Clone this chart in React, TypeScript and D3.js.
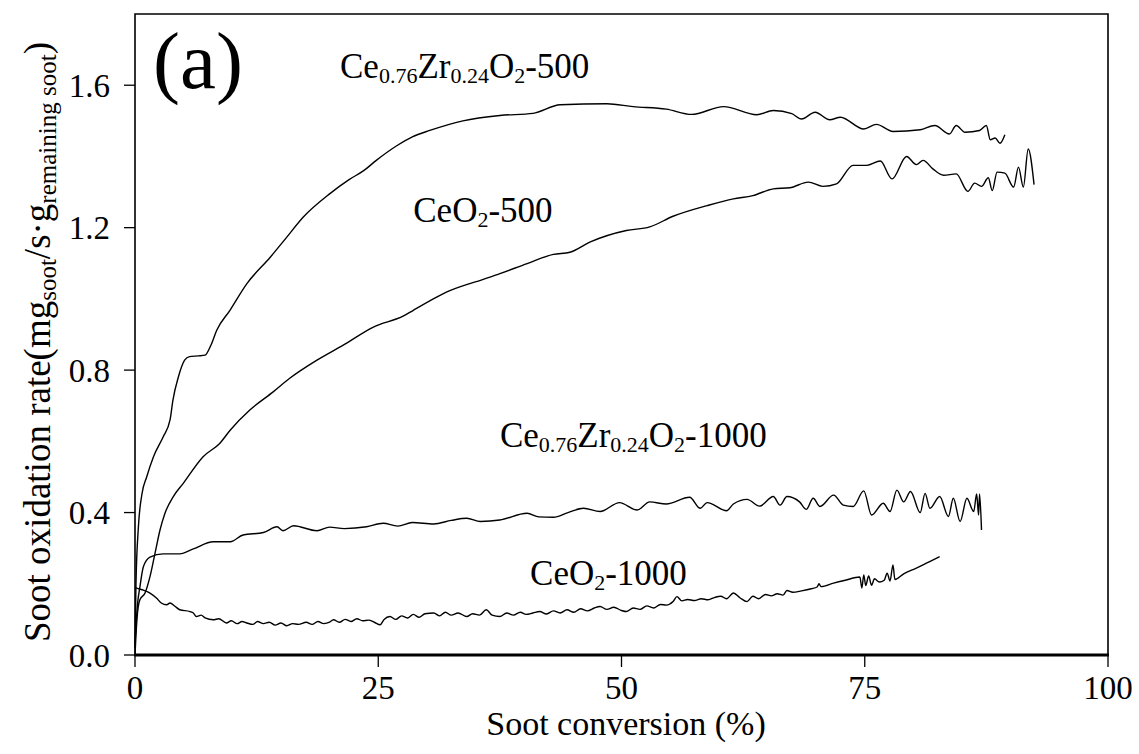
import React from "react";
import * as d3 from "d3";

type Pt = [number, number];

// Ce0.76Zr0.24O2-500
const ceZr500: Pt[] = [
  [0, 0.02], [0.1, 0.2], [0.35, 0.36], [0.7, 0.45], [1.2, 0.5], [1.9, 0.557], [2.9, 0.613],
  [3.6, 0.66], [3.9, 0.716], [4.45, 0.78], [5.1, 0.828], [5.6, 0.838], [6.5, 0.84], [7.2, 0.842],
  [7.8, 0.87], [8.4, 0.912], [9.76, 0.968], [11.5, 1.043], [13.9, 1.117], [15.5, 1.17], [17.3, 1.23],
  [20.0, 1.295], [22, 1.335], [23.5, 1.36], [24.8, 1.389], [26.9, 1.43], [28.5, 1.455], [30.3, 1.473],
  [33.7, 1.5], [37.5, 1.515], [40.9, 1.521], [43.7, 1.545], [48.5, 1.548], [51.2, 1.54], [54.6, 1.533],
  [57.2, 1.518], [60.5, 1.54], [63.9, 1.517], [65.6, 1.529], [67.5, 1.52], [68.5, 1.505], [69.9, 1.524],
  [71.4, 1.503], [72.5, 1.51], [74.9, 1.477], [76.2, 1.49], [77.9, 1.47], [80.7, 1.475], [82.2, 1.487],
  [83.7, 1.463], [84.4, 1.487], [85.3, 1.468], [86.8, 1.473], [87.5, 1.487], [87.9, 1.447], [88.4, 1.452],
  [88.9, 1.437], [89.4, 1.461],
];

// CeO2-500
const ceO500: Pt[] = [
  [0, 0.0], [0.2, 0.1], [0.5, 0.155], [1.03, 0.174], [1.54, 0.22], [2.06, 0.286], [2.57, 0.351],
  [3.08, 0.398], [3.94, 0.445], [4.96, 0.482], [7.0, 0.557], [8.7, 0.594], [9.8, 0.632], [11.8, 0.688],
  [14.2, 0.739], [15.9, 0.777], [18.7, 0.828], [21.4, 0.87], [24.5, 0.921], [27.6, 0.952], [28.6, 0.968],
  [31.0, 1.005], [32.0, 1.019], [34.4, 1.043], [35.5, 1.052], [37.5, 1.071], [40.3, 1.099], [43.0, 1.125],
  [44.7, 1.131], [46.8, 1.16], [50.5, 1.192], [52.9, 1.202], [55.3, 1.232], [58.8, 1.262], [61.5, 1.281],
  [63.5, 1.29], [65.6, 1.309], [67.3, 1.312], [69.2, 1.328], [70.7, 1.316], [72.1, 1.323], [73.8, 1.375],
  [75.2, 1.375], [76.6, 1.387], [77.8, 1.337], [79.3, 1.4], [80.3, 1.377], [81.0, 1.389], [82.0, 1.365],
  [83.1, 1.347], [84.4, 1.351], [85.6, 1.302], [86.3, 1.325], [87.0, 1.316], [87.7, 1.34], [88.1, 1.304],
  [88.6, 1.356], [89.4, 1.353], [90.3, 1.314], [90.8, 1.37], [91.3, 1.314], [91.8, 1.421], [92.4, 1.321],
];

// Ce0.76Zr0.24O2-1000
const ceZr1000: Pt[] = [
  [0, 0.03], [0.25, 0.14], [0.51, 0.192], [0.86, 0.248], [1.54, 0.275], [2.9, 0.284], [4.6, 0.284],
  [6.0, 0.298], [8.05, 0.318], [9.8, 0.318], [11.1, 0.337], [13.2, 0.344], [14.6, 0.36], [15.2, 0.349],
  [16.3, 0.363], [18.7, 0.349], [20.0, 0.359], [21.5, 0.355], [23.8, 0.36], [25.5, 0.37], [27, 0.362],
  [28.5, 0.372], [30.7, 0.368], [32.5, 0.378], [34.1, 0.384], [35.5, 0.375], [37.5, 0.379], [40.3, 0.398],
  [41.5, 0.388], [43.0, 0.387], [44.5, 0.4], [46.1, 0.412], [47.8, 0.403], [49.8, 0.428], [51.6, 0.407],
  [52.9, 0.43], [54.6, 0.424], [57.0, 0.443], [58.1, 0.412], [58.8, 0.428], [60.8, 0.405], [61.5, 0.424],
  [62.9, 0.437], [64.2, 0.418], [65.6, 0.445], [66.3, 0.421], [67.0, 0.445], [68.3, 0.43], [69.0, 0.409],
  [69.7, 0.44], [70.4, 0.417], [71.8, 0.449], [72.8, 0.421], [73.8, 0.417], [74.9, 0.461], [75.7, 0.393],
  [76.9, 0.426], [77.6, 0.403], [78.3, 0.463], [79.0, 0.43], [79.7, 0.459], [80.7, 0.4], [81.2, 0.454],
  [81.7, 0.412], [82.7, 0.445], [83.6, 0.389], [84.1, 0.44], [84.8, 0.375], [85.5, 0.44], [86.2, 0.403],
  [86.5, 0.452], [86.7, 0.393], [86.8, 0.452], [87.0, 0.351],
];

// CeO2-1000
const ceO1000: Pt[] = [
  [0, 0.19], [0.17, 0.188], [0.86, 0.182], [1.54, 0.174], [2.2, 0.16], [2.7, 0.146], [3.26, 0.141],
  [3.6, 0.146], [4.1, 0.137], [4.6, 0.127], [5.65, 0.122], [6.0, 0.118], [6.3, 0.108], [6.8, 0.112],
  [7.2, 0.104], [8.05, 0.099], [8.6, 0.102], [9.4, 0.09], [9.9, 0.096], [10.5, 0.088], [11.0, 0.094],
  [11.5, 0.09], [12.1, 0.086], [12.6, 0.094], [13.2, 0.088], [13.8, 0.092], [14.4, 0.084], [15.0, 0.09],
  [15.6, 0.082], [16.2, 0.088], [16.8, 0.086], [17.6, 0.092], [18.2, 0.086], [18.8, 0.094], [19.4, 0.088],
  [20.0, 0.092], [20.4, 0.099], [21.0, 0.092], [21.6, 0.1], [22.2, 0.094], [22.8, 0.102], [23.4, 0.096],
  [24.0, 0.098], [24.6, 0.092], [25.2, 0.085], [25.6, 0.1], [26.2, 0.108], [26.8, 0.1], [27.4, 0.11],
  [28.0, 0.104], [28.6, 0.114], [29.2, 0.106], [29.8, 0.116], [30.7, 0.118], [31.3, 0.11], [31.9, 0.12],
  [32.5, 0.112], [33.2, 0.118], [34.1, 0.108], [34.7, 0.116], [35.4, 0.112], [36.1, 0.127], [36.7, 0.112],
  [37.5, 0.108], [38.2, 0.118], [38.9, 0.112], [39.6, 0.12], [40.2, 0.114], [40.9, 0.118], [41.6, 0.122],
  [42.3, 0.115], [43.0, 0.124], [43.7, 0.118], [44.4, 0.127], [45.1, 0.12], [45.8, 0.13], [46.5, 0.124],
  [47.2, 0.132], [47.8, 0.136], [48.5, 0.128], [49.2, 0.134], [50.0, 0.125], [50.5, 0.122], [51.2, 0.132],
  [51.9, 0.128], [52.6, 0.138], [53.3, 0.132], [54.0, 0.142], [54.6, 0.14], [55.3, 0.15], [55.7, 0.164],
  [56.2, 0.152], [56.8, 0.156], [57.5, 0.153], [58.2, 0.158], [58.9, 0.155], [59.6, 0.162], [60.2, 0.165],
  [60.8, 0.158], [61.5, 0.174], [62.2, 0.16], [62.9, 0.15], [63.5, 0.165], [64.1, 0.158], [64.8, 0.17],
  [65.4, 0.166], [66.0, 0.172], [66.6, 0.168], [67.0, 0.181], [67.6, 0.176], [68.5, 0.18], [69.5, 0.186],
  [70.1, 0.191], [70.3, 0.2], [70.5, 0.192], [71.8, 0.202], [73.0, 0.21], [74.5, 0.219], [74.7, 0.188],
  [74.9, 0.225], [75.1, 0.195], [75.4, 0.222], [75.7, 0.196], [76.0, 0.214], [76.5, 0.205], [77.0, 0.21],
  [77.3, 0.23], [77.6, 0.208], [77.9, 0.253], [78.1, 0.212], [79.0, 0.228], [80.3, 0.244], [81.5, 0.26],
  [82.7, 0.276],
];

const xTicks = [0, 25, 50, 75, 100];
const yTicks = [0, 0.4, 0.8, 1.2, 1.6];
const xDomain: [number, number] = [0, 100];
const yDomain: [number, number] = [0, 1.8];

const FONT = "Liberation Serif, Times New Roman, Times, DejaVu Serif, serif";

export default function App() {
  const W = 1139, H = 754;
  const left = 135, right = 1108, top = 14, bottom = 655;
  const x = d3.scaleLinear().domain(xDomain).range([left, right]);
  const y = d3.scaleLinear().domain(yDomain).range([bottom, top]);
  const line = d3.line<Pt>().x(d => x(d[0])).y(d => y(d[1])).curve(d3.curveMonotoneX);

  const series = [ceZr500, ceO500, ceZr1000, ceO1000];
  const sub = 5;
  const lblSize = 35, subSize = 22;

  return (
    <svg width={W} height={H} style={{ position: "absolute", left: 0, top: 0, background: "#fff", fontFamily: FONT }}>
      <rect x={0} y={0} width={W} height={H} fill="#fff" />
      {series.map((s, i) => (
        <path key={i} d={line(s) || ""} fill="none" stroke="#000" strokeWidth={1.4} strokeLinejoin="round" />
      ))}
      {/* frame */}
      <path d={`M${left},${bottom}V${top}H${right}V${bottom}`} fill="none" stroke="#000" strokeWidth={1.6} />
      <line x1={left - 1} x2={right + 1} y1={bottom} y2={bottom} stroke="#000" strokeWidth={3} />
      {/* y ticks */}
      {yTicks.map(t => (
        <g key={t}>
          <line x1={left - 11} x2={left} y1={y(t)} y2={y(t)} stroke="#000" strokeWidth={1.3} />
          <text x={left - 25} y={y(t)} dy="0.35em" textAnchor="end" fontSize={33}>{t.toFixed(1)}</text>
        </g>
      ))}
      {/* x ticks */}
      {xTicks.map(t => (
        <g key={t}>
          <line x1={x(t)} x2={x(t)} y1={bottom} y2={bottom + 12} stroke="#000" strokeWidth={1.3} />
          <text x={x(t)} y={699} textAnchor="middle" fontSize={33}>{t}</text>
        </g>
      ))}
      <text x={626} y={735} textAnchor="middle" fontSize={34}>Soot conversion (%)</text>
      {/* y title */}
      <text transform={`translate(50,${342}) rotate(-90)`} textAnchor="middle" fontSize={37}>
        <tspan>Soot oxidation rate(mg</tspan>
        <tspan fontSize={25} dy={6}>soot</tspan>
        <tspan dy={-6}>/s·g</tspan>
        <tspan fontSize={25} dy={6}>remaining soot</tspan>
        <tspan dy={-6}>)</tspan>
      </text>
      {/* panel label */}
      <text x={153} y={88} fontSize={81}>(a)</text>
      {/* series labels */}
      <text x={x(21.07)} y={y(1.62)} fontSize={lblSize}>
        Ce<tspan fontSize={subSize} dy={sub}>0.76</tspan><tspan dy={-sub}>Zr</tspan>
        <tspan fontSize={subSize} dy={sub}>0.24</tspan><tspan dy={-sub}>O</tspan>
        <tspan fontSize={subSize} dy={sub}>2</tspan><tspan dy={-sub}>-500</tspan>
      </text>
      <text x={x(28.6)} y={y(1.216)} fontSize={lblSize}>
        CeO<tspan fontSize={subSize} dy={sub}>2</tspan><tspan dy={-sub}>-500</tspan>
      </text>
      <text x={x(37.5)} y={y(0.585)} fontSize={lblSize}>
        Ce<tspan fontSize={subSize} dy={sub}>0.76</tspan><tspan dy={-sub}>Zr</tspan>
        <tspan fontSize={subSize} dy={sub}>0.24</tspan><tspan dy={-sub}>O</tspan>
        <tspan fontSize={subSize} dy={sub}>2</tspan><tspan dy={-sub}>-1000</tspan>
      </text>
      <text x={x(40.6)} y={y(0.197)} fontSize={lblSize}>
        CeO<tspan fontSize={subSize} dy={sub}>2</tspan><tspan dy={-sub}>-1000</tspan>
      </text>
    </svg>
  );
}
